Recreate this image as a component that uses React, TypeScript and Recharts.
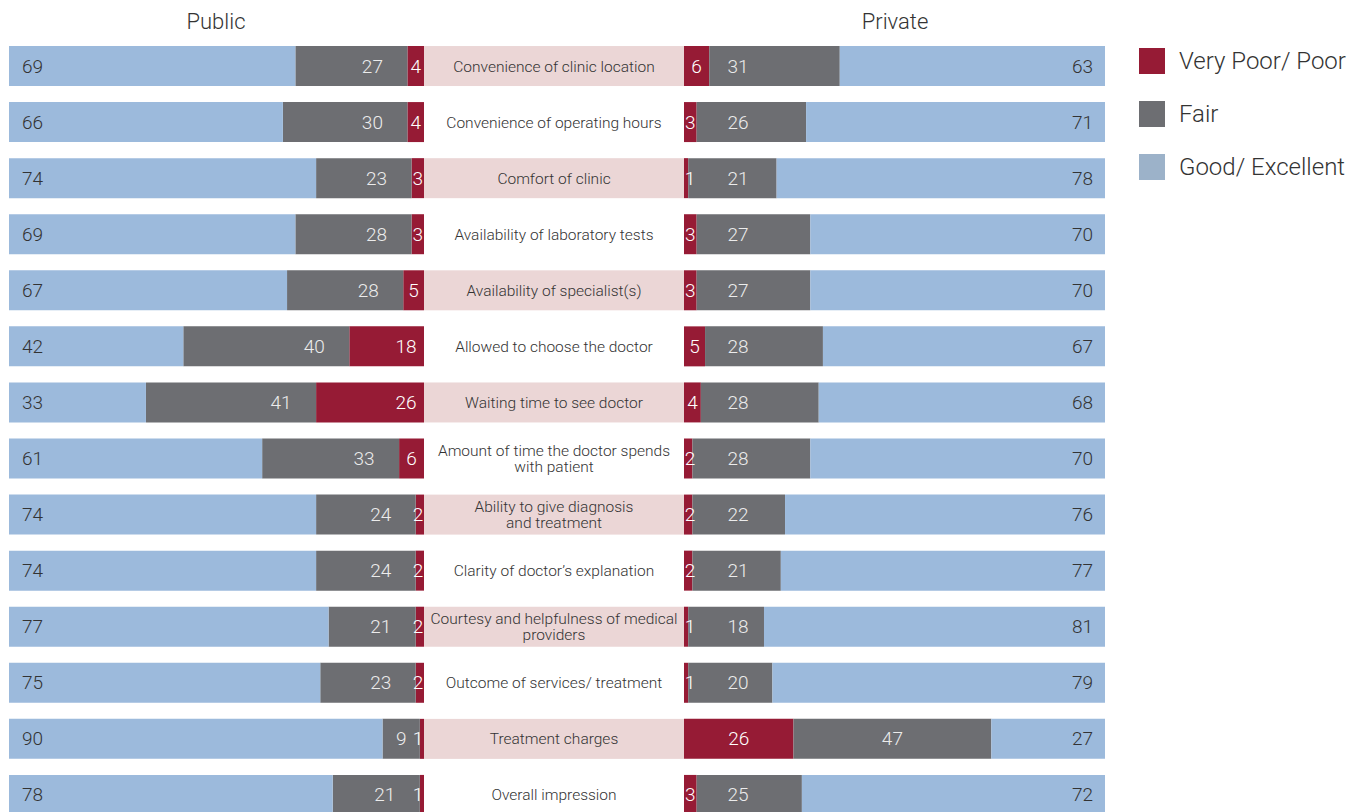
import React from 'react';
import { BarChart, Bar, XAxis, YAxis, LabelList } from 'recharts';

const categories = [
  'Convenience of clinic location',
  'Convenience of operating hours',
  'Comfort of clinic',
  'Availability of laboratory tests',
  'Availability of specialist(s)',
  'Allowed to choose the doctor',
  'Waiting time to see doctor',
  'Amount of time the doctor spends\nwith patient',
  'Ability to give diagnosis\nand treatment',
  'Clarity of doctor\u2019s explanation',
  'Courtesy and helpfulness of medical\nproviders',
  'Outcome of services/ treatment',
  'Treatment charges',
  'Overall impression',
];
const publicPoor = [4, 4, 3, 3, 5, 18, 26, 6, 2, 2, 2, 2, 1, 1];
const publicFair = [27, 30, 23, 28, 28, 40, 41, 33, 24, 24, 21, 23, 9, 21];
const publicGood = [69, 66, 74, 69, 67, 42, 33, 61, 74, 74, 77, 75, 90, 78];
const privatePoor = [6, 3, 1, 3, 3, 5, 4, 2, 2, 2, 1, 1, 26, 3];
const privateFair = [31, 26, 21, 27, 27, 28, 28, 28, 22, 21, 18, 20, 47, 25];
const privateGood = [63, 71, 78, 70, 70, 67, 68, 70, 76, 77, 81, 79, 27, 72];
const seriesNames = ['Very Poor/ Poor', 'Fair', 'Good/ Excellent'];
const panelTitles = ['Public', 'Private'];

const publicData = categories.map((name, i) => ({
  name,
  poor: publicPoor[i],
  fair: publicFair[i],
  good: publicGood[i],
}));
const privateData = categories.map((name, i) => ({
  name,
  poor: privatePoor[i],
  fair: privateFair[i],
  good: privateGood[i],
}));

const RED = '#961B35';
const GRAY = '#6D6E72';
const BLUE = '#9CBADC';
const PINK = '#EBD6D6';
const FONT = 'Roboto, "Liberation Sans", Arial, sans-serif';
const WEIGHT = 300;
const LABEL_SIZE = 19;
const PLOT_LEFT = 260;

const span = (p: any) => {
  const x = Number(p.x);
  const w = Number(p.width);
  return [Math.min(x, x + w), Math.max(x, x + w)];
};

const txt = (x: number, y: number, v: any, anchor: string, fill: string) => (
  <text
    x={x}
    y={y}
    textAnchor={anchor as any}
    dominantBaseline="central"
    fontSize={LABEL_SIZE}
    fontFamily={FONT}
    fontWeight={WEIGHT}
    fill={fill}
  >
    {v}
  </text>
);

const pubGoodLabel = (p: any) => {
  const [l] = span(p);
  return txt(l + 13, Number(p.y) + Number(p.height) / 2, p.value, 'start', '#333');
};
const pubFairLabel = (p: any) => {
  const [l, r] = span(p);
  const w = r - l;
  const cx = w < 70 ? (l + r) / 2 : r - 35;
  return txt(cx, Number(p.y) + Number(p.height) / 2, p.value, 'middle', '#ececec');
};
const pubPoorLabel = (p: any) => {
  const [l, r] = span(p);
  const w = r - l;
  const cx = w < 40 ? Math.min((l + r) / 2, r - 6) : r - 18;
  return txt(cx, Number(p.y) + Number(p.height) / 2, p.value, 'middle', '#ffffff');
};
const priPoorLabel = (p: any) => {
  const [l, r] = span(p);
  const cx = Math.max((l + r) / 2, l + 6);
  return txt(cx, Number(p.y) + Number(p.height) / 2, p.value, 'middle', '#ffffff');
};
const priFairLabel = (p: any) => {
  const [l, r] = span(p);
  const cx = l - PLOT_LEFT < 45 ? PLOT_LEFT + 54 : (l + r) / 2;
  return txt(cx, Number(p.y) + Number(p.height) / 2, p.value, 'middle', '#ececec');
};
const priGoodLabel = (p: any) => {
  const [, r] = span(p);
  return txt(r - 12, Number(p.y) + Number(p.height) / 2, p.value, 'end', '#333');
};

const CenterTick = (props: any) => {
  const { y, payload, index } = props;
  const i = payload && payload.index != null ? payload.index : index;
  const lines = String(payload.value).split('\n');
  const first = -(lines.length - 1) * 8 + 5.5;
  return (
    <g>
      {i % 2 === 0 && <rect x={0} y={y - 20} width={PLOT_LEFT} height={40} fill={PINK} />}
      <text x={130} y={y} textAnchor="middle" fontSize={15.5} fontFamily={FONT} fontWeight={WEIGHT} fill="#333">
        {lines.map((l, k) => (
          <tspan key={k} x={130} dy={k === 0 ? first : 16}>
            {l}
          </tspan>
        ))}
      </text>
    </g>
  );
};

const legendColors = [RED, GRAY, '#9CB2C9'];

export default function App() {
  return (
    <div
      style={{
        position: 'absolute',
        left: 0,
        top: 0,
        width: 1356,
        height: 812,
        overflow: 'hidden',
        background: '#fff',
        fontFamily: FONT,
        fontWeight: WEIGHT,
      }}
    >
      <div style={{ position: 'absolute', left: 116, top: 8, width: 200, textAlign: 'center', fontSize: 22, color: '#333', lineHeight: '28px' }}>
        {panelTitles[0]}
      </div>
      <div style={{ position: 'absolute', left: 795, top: 8, width: 200, textAlign: 'center', fontSize: 22, color: '#333', lineHeight: '28px' }}>
        {panelTitles[1]}
      </div>

      <div style={{ position: 'absolute', left: 9, top: 0 }}>
        <BarChart
          width={415}
          height={823}
          data={publicData}
          layout="vertical"
          margin={{ top: 38, right: 0, left: 0, bottom: 0 }}
          barSize={40}
        >
          <XAxis type="number" domain={[0, 100]} reversed hide />
          <YAxis type="category" dataKey="name" hide />
          <Bar dataKey="poor" stackId="a" fill={RED} isAnimationActive={false}>
            <LabelList dataKey="poor" content={pubPoorLabel} />
          </Bar>
          <Bar dataKey="fair" stackId="a" fill={GRAY} isAnimationActive={false}>
            <LabelList dataKey="fair" content={pubFairLabel} />
          </Bar>
          <Bar dataKey="good" stackId="a" fill={BLUE} isAnimationActive={false}>
            <LabelList dataKey="good" content={pubGoodLabel} />
          </Bar>
        </BarChart>
      </div>

      <div style={{ position: 'absolute', left: 424, top: 0 }}>
        <BarChart
          width={681}
          height={823}
          data={privateData}
          layout="vertical"
          margin={{ top: 38, right: 0, left: 0, bottom: 0 }}
          barSize={40}
        >
          <XAxis type="number" domain={[0, 100]} hide />
          <YAxis
            type="category"
            dataKey="name"
            width={PLOT_LEFT}
            axisLine={false}
            tickLine={false}
            interval={0}
            tick={<CenterTick />}
          />
          <Bar dataKey="poor" stackId="a" fill={RED} isAnimationActive={false}>
            <LabelList dataKey="poor" content={priPoorLabel} />
          </Bar>
          <Bar dataKey="fair" stackId="a" fill={GRAY} isAnimationActive={false}>
            <LabelList dataKey="fair" content={priFairLabel} />
          </Bar>
          <Bar dataKey="good" stackId="a" fill={BLUE} isAnimationActive={false}>
            <LabelList dataKey="good" content={priGoodLabel} />
          </Bar>
        </BarChart>
      </div>

      <div style={{ position: 'absolute', left: 1139, top: 48 }}>
        {seriesNames.map((n, i) => (
          <div key={n} style={{ display: 'flex', alignItems: 'center', height: 26, marginBottom: 27 }}>
            <div style={{ width: 26, height: 26, background: legendColors[i] }} />
            <span style={{ marginLeft: 14, fontSize: 24, color: '#333', whiteSpace: 'nowrap', lineHeight: '26px' }}>{n}</span>
          </div>
        ))}
      </div>
    </div>
  );
}
